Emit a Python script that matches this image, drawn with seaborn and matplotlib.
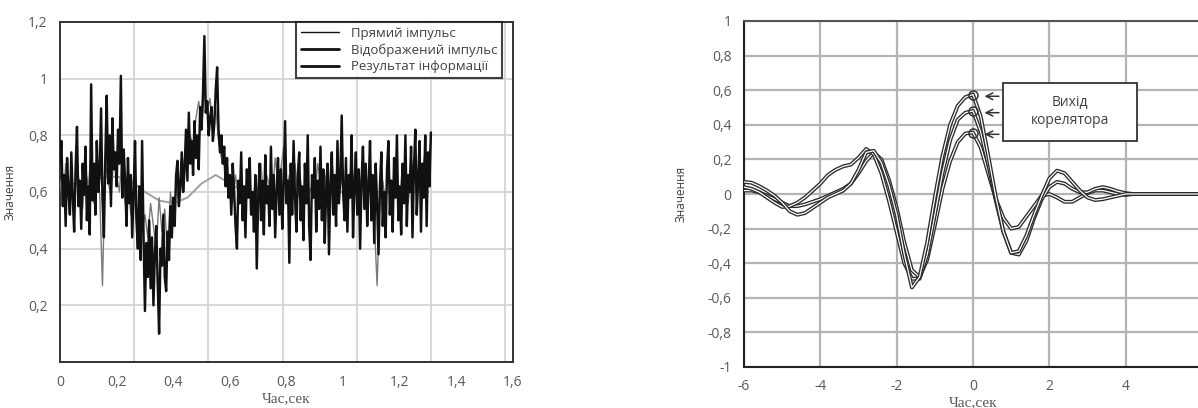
import matplotlib
matplotlib.use("Agg")
import numpy as np
import pandas as pd
import matplotlib.pyplot as plt
import matplotlib.patheffects as pe
from matplotlib.patches import Rectangle
from matplotlib.ticker import FuncFormatter
import seaborn as sns

sns.set_theme(style="white")
plt.rcParams['font.family'] = ['Open Sans', 'DejaVu Sans']

# ---------------- left panel: pulses ----------------
# reflected pulse, sampled every 0.005 s from 0 to 1.31 s
reflected = [
    0.70, 0.78, 0.55, 0.66, 0.48, 0.72, 0.60, 0.52, 0.74, 0.58, 0.46, 0.68, 0.83, 0.55, 0.64, 0.47, 0.70, 0.59, 0.76, 0.50,
    0.62, 0.45, 0.98, 0.57, 0.70, 0.52, 0.78, 0.60, 0.66, 0.895, 0.58, 0.44, 0.72, 0.94, 0.63, 0.80, 0.55, 0.86, 0.68, 0.74,
    0.62, 0.82, 0.70, 1.01, 0.58, 0.75, 0.64, 0.48, 0.72, 0.56, 0.66, 0.44, 0.60, 0.78, 0.50, 0.40, 0.62, 0.36, 0.78, 0.45,
    0.18, 0.42, 0.30, 0.50, 0.26, 0.44, 0.20, 0.38, 0.48, 0.28, 0.10, 0.40, 0.34, 0.52, 0.30, 0.25, 0.46, 0.36, 0.55, 0.44,
    0.58, 0.48, 0.66, 0.71, 0.55, 0.62, 0.74, 0.60, 0.68, 0.82, 0.64, 0.88, 0.70, 0.78, 0.66, 0.85, 0.72, 0.80, 0.68, 0.90,
    0.82, 0.95, 1.15, 0.88, 0.92, 0.80, 0.86, 0.90, 0.78, 0.84, 0.96, 1.04, 0.82, 0.74, 0.80, 0.70, 0.76, 0.62, 0.72, 0.58,
    0.66, 0.52, 0.70, 0.60, 0.48, 0.40, 0.64, 0.56, 0.74, 0.50, 0.62, 0.44, 0.68, 0.58, 0.72, 0.52, 0.60, 0.46, 0.66, 0.33,
    0.58, 0.70, 0.50, 0.64, 0.45, 0.73, 0.56, 0.62, 0.48, 0.76, 0.54, 0.66, 0.44, 0.60, 0.72, 0.52, 0.68, 0.47, 0.62, 0.85,
    0.56, 0.64, 0.35, 0.70, 0.52, 0.78, 0.58, 0.46, 0.66, 0.74, 0.50, 0.62, 0.43, 0.70, 0.56, 0.80, 0.48, 0.36, 0.66, 0.58,
    0.72, 0.46, 0.64, 0.54, 0.76, 0.50, 0.68, 0.42, 0.60, 0.70, 0.38, 0.62, 0.74, 0.52, 0.66, 0.48, 0.78, 0.56, 0.64, 0.87,
    0.60, 0.50, 0.72, 0.46, 0.66, 0.58, 0.80, 0.44, 0.62, 0.74, 0.52, 0.68, 0.40, 0.64, 0.76, 0.54, 0.70, 0.48, 0.62, 0.78,
    0.50, 0.66, 0.42, 0.70, 0.56, 0.38, 0.62, 0.74, 0.48, 0.60, 0.44, 0.68, 0.78, 0.52, 0.64, 0.46, 0.72, 0.58, 0.80, 0.50,
    0.62, 0.45, 0.70, 0.56, 0.80, 0.48, 0.66, 0.60, 0.76, 0.44, 0.68, 0.82, 0.52, 0.64, 0.78, 0.46, 0.70, 0.58, 0.80, 0.48,
    0.74, 0.62, 0.81,
]
t_reflected = np.round(np.arange(len(reflected)) * 0.005, 3)

# direct pulse, sampled every 0.01 s
direct = [
    0.64, 0.55, 0.70, 0.58, 0.66, 0.50, 0.72, 0.60, 0.54, 0.68,
    0.62, 0.74, 0.56, 0.66, 0.60, 0.27, 0.70, 0.64, 0.58, 0.72,
    0.66, 0.60, 0.74, 0.56, 0.64, 0.52, 0.60, 0.50, 0.56, 0.46,
    0.52, 0.44, 0.56, 0.48, 0.40, 0.58, 0.46, 0.54, 0.38, 0.60,
    0.50, 0.62, 0.56, 0.66, 0.72, 0.70, 0.80, 0.76, 0.86, 0.92,
    0.84, 0.95, 0.88, 0.93, 0.82, 0.90, 0.78, 0.72, 0.70, 0.64,
    0.62, 0.56, 0.66, 0.58, 0.62, 0.54, 0.68, 0.60, 0.56, 0.64,
    0.60, 0.70, 0.56, 0.66, 0.62, 0.58, 0.72, 0.64, 0.68, 0.76,
    0.60, 0.66, 0.56, 0.70, 0.58, 0.64, 0.54, 0.66, 0.60, 0.62,
    0.58, 0.70, 0.64, 0.56, 0.66, 0.60, 0.72, 0.58, 0.64, 0.62,
    0.68, 0.56, 0.62, 0.70, 0.58, 0.64, 0.60, 0.72, 0.56, 0.66,
    0.60, 0.50, 0.27, 0.58, 0.64, 0.56, 0.68, 0.60, 0.62, 0.66,
    0.58, 0.70, 0.62, 0.56, 0.66, 0.72, 0.60, 0.64, 0.68, 0.74,
    0.70, 0.78,
]
t_direct = np.round(np.arange(len(direct)) * 0.01, 2)

# processing result (smooth), sampled every 0.05 s
result = [0.62, 0.63, 0.64, 0.65, 0.655, 0.64, 0.60, 0.57, 0.56, 0.58, 0.63, 0.66, 0.63, 0.60,
          0.59, 0.60, 0.60, 0.60, 0.60, 0.60, 0.60, 0.60, 0.60, 0.60, 0.60, 0.60, 0.60]
t_result = np.round(np.arange(len(result)) * 0.05, 2)

left_xticks = [0, 0.2, 0.4, 0.6, 0.8, 1.0, 1.2, 1.4, 1.6]
left_yticks = [0.2, 0.4, 0.6, 0.8, 1.0, 1.2]
left_vgrid = [0.262, 0.524, 0.787, 1.049, 1.311, 1.573]
legend_labels = ["Прямий імпульс", "Відображений імпульс", "Результат інформації"]

# ---------------- right panel: correlator output ----------------
tau = [-6.0, -5.8, -5.6, -5.4, -5.2, -5.0, -4.8, -4.6, -4.4, -4.2,
       -4.0, -3.8, -3.6, -3.4, -3.2, -3.0, -2.8, -2.6, -2.4, -2.2,
       -2.0, -1.8, -1.6, -1.4, -1.2, -1.0, -0.8, -0.6, -0.4, -0.2,
       0.0, 0.2, 0.4, 0.6, 0.8, 1.0, 1.2, 1.4, 1.6, 1.8,
       2.0, 2.2, 2.4, 2.6, 2.8, 3.0, 3.2, 3.4, 3.6, 3.8,
       4.0, 4.2, 4.4, 6.0]
corr_a = [0.07, 0.065, 0.045, 0.02, -0.01, -0.05, -0.10, -0.12, -0.11, -0.08,
          -0.05, -0.02, 0.00, 0.02, 0.06, 0.14, 0.24, 0.25, 0.18, 0.05,
          -0.12, -0.35, -0.54, -0.48, -0.28, -0.02, 0.22, 0.40, 0.51, 0.56,
          0.575, 0.45, 0.22, -0.02, -0.22, -0.34, -0.33, -0.24, -0.12, -0.01,
          0.09, 0.135, 0.12, 0.07, 0.02, -0.02, -0.035, -0.03, -0.02, -0.01,
          0.0, 0.0, 0.0, 0.0]
corr_b = [0.04, 0.03, 0.01, -0.02, -0.05, -0.075, -0.07, -0.05, -0.02, 0.02,
          0.06, 0.11, 0.14, 0.16, 0.17, 0.21, 0.26, 0.23, 0.12, -0.04,
          -0.22, -0.40, -0.49, -0.49, -0.35, -0.12, 0.12, 0.31, 0.43, 0.47,
          0.48, 0.36, 0.17, -0.04, -0.22, -0.34, -0.35, -0.27, -0.14, -0.03,
          0.04, 0.07, 0.06, 0.03, 0.01, 0.01, 0.03, 0.04, 0.03, 0.015,
          0.005, 0.0, 0.0, 0.0]
corr_c = [0.02, 0.02, 0.01, -0.01, -0.03, -0.05, -0.07, -0.07, -0.06, -0.045,
          -0.03, -0.01, 0.01, 0.03, 0.06, 0.12, 0.19, 0.24, 0.20, 0.08,
          -0.08, -0.28, -0.44, -0.48, -0.38, -0.18, 0.03, 0.19, 0.30, 0.35,
          0.355, 0.27, 0.12, -0.03, -0.14, -0.20, -0.19, -0.13, -0.07, -0.01,
          0.0, -0.02, -0.045, -0.045, -0.02, 0.005, 0.02, 0.02, 0.01, 0.0,
          -0.005, 0.0, 0.0, 0.0]
right_xticks = [-6, -4, -2, 0, 2, 4]
right_yticks = [-1, -0.8, -0.6, -0.4, -0.2, 0, 0.2, 0.4, 0.6, 0.8, 1]
box_text = "Вихід\nкорелятора"

TICK_COLOR = "#595959"


def comma_fmt(v, pos=None):
    v = round(v, 2) + 0.0
    return f"{v:g}".replace(".", ",")


fig = plt.figure(figsize=(11.98, 4.08), dpi=100)
W, H = 1198, 408

# ---------- left axes ----------
axl = fig.add_axes([60 / W, (H - 362) / H, (513 - 60) / W, (362 - 22) / H])
sns.lineplot(x=t_result, y=result, ax=axl, color="#a0a0a0", linewidth=1.4, label=legend_labels[2], zorder=2)
sns.lineplot(x=t_direct, y=direct, ax=axl, color="#7a7a7a", linewidth=1.0, label=legend_labels[0], zorder=3)
sns.lineplot(x=t_reflected, y=reflected, ax=axl, color="#111111", linewidth=1.75, label=legend_labels[1], zorder=4)

axl.set_xlim(0, 1.6)
axl.set_ylim(0, 1.2)
axl.set_xticks(left_xticks)
axl.set_yticks(left_yticks)
axl.xaxis.set_major_formatter(FuncFormatter(comma_fmt))
axl.yaxis.set_major_formatter(FuncFormatter(comma_fmt))
axl.set_xticks(left_vgrid, minor=True)
axl.grid(False)
axl.grid(axis="y", which="major", color="#d4d4d4", linewidth=1.3)
axl.grid(axis="x", which="minor", color="#d4d4d4", linewidth=1.3)
axl.tick_params(axis="both", which="both", length=0, colors=TICK_COLOR, labelsize=10)
axl.tick_params(axis="y", pad=9)
axl.tick_params(axis="x", pad=9)
for s in axl.spines.values():
    s.set_color("#333333")
    s.set_linewidth(1.4)
axl.set_xlabel("Час,сек", family=["Liberation Serif", "DejaVu Serif"], fontsize=11, color=TICK_COLOR, labelpad=2)
axl.set_ylabel("Значення", fontsize=8.5, color="#404040")
axl.yaxis.set_label_coords((17 - 60) / 453, 0.5)

handles, labels = axl.get_legend_handles_labels()
order = [labels.index(l) for l in legend_labels]
leg = axl.legend([handles[i] for i in order], [labels[i] for i in order],
                 loc="upper right", bbox_to_anchor=((502 - 60) / 453, 1.0), borderaxespad=0,
                 frameon=True, fancybox=False, fontsize=9.5, handlelength=2.9, handletextpad=0.9,
                 labelspacing=0.28, borderpad=0.35)
leg.get_frame().set_edgecolor("#111111")
leg.get_frame().set_linewidth(1.5)
for ln, lw in zip(leg.get_lines(), [1.0, 2.0, 2.0]):
    ln.set_color("#111111")
    ln.set_linewidth(lw)
for txt in leg.get_texts():
    txt.set_color("#404040")

# ---------- right axes ----------
x0, x1 = 744, 1202
axr = fig.add_axes([x0 / W, (H - 367) / H, (x1 - x0) / W, (367 - 21) / H])
outline = [pe.Stroke(linewidth=2.8, foreground="#2a2a2a"), pe.Normal()]
for series in (corr_c, corr_b, corr_a):
    sns.lineplot(x=tau, y=series, ax=axr, color="white", linewidth=0.9, zorder=3)
    axr.lines[-1].set_path_effects(outline)

axr.set_xlim(-6, 6)
axr.set_ylim(-1, 1)
axr.set_xticks(right_xticks)
axr.set_yticks(right_yticks)
axr.xaxis.set_major_formatter(FuncFormatter(comma_fmt))
axr.yaxis.set_major_formatter(FuncFormatter(comma_fmt))
axr.grid(True, color="#b4b4b4", linewidth=1.6)
axr.tick_params(axis="both", length=0, colors=TICK_COLOR, labelsize=10)
axr.tick_params(axis="y", pad=9)
axr.tick_params(axis="x", pad=9)
for s in axr.spines.values():
    s.set_color("#222222")
    s.set_linewidth(1.5)
axr.spines["top"].set_color("#555555")
axr.set_xlabel("Час,сек", family=["Liberation Serif", "DejaVu Serif"], fontsize=11, color=TICK_COLOR, labelpad=1)
axr.set_ylabel("Значення", fontsize=8.5, color="#404040")
axr.yaxis.set_label_coords((688 - x0) / (x1 - x0), 0.5)

# peak markers with arrows pointing to them
peaks = [(tau[int(np.argmax(s))], max(s)) for s in (corr_a, corr_b, corr_c)]
for px, py in peaks:
    axr.plot(px, py, marker="o", markersize=6.5, markerfacecolor="none",
             markeredgecolor="#333333", markeredgewidth=1.1, zorder=5)
    axr.annotate("", xy=(px + 0.3, py - 0.01), xytext=(px + 0.68, py - 0.01),
                 arrowprops=dict(arrowstyle="->", color="#333333", lw=1.1,
                                 shrinkA=0, shrinkB=0), zorder=5)

axr.add_patch(Rectangle((0.79, 0.305), 3.5, 0.335, facecolor="white",
                        edgecolor="#333333", linewidth=1.3, zorder=6))
axr.text(2.54, 0.475, box_text, ha="center", va="center", fontsize=10,
         color="#404040", linespacing=1.3, zorder=7)

fig.savefig("out.png", dpi=100)
